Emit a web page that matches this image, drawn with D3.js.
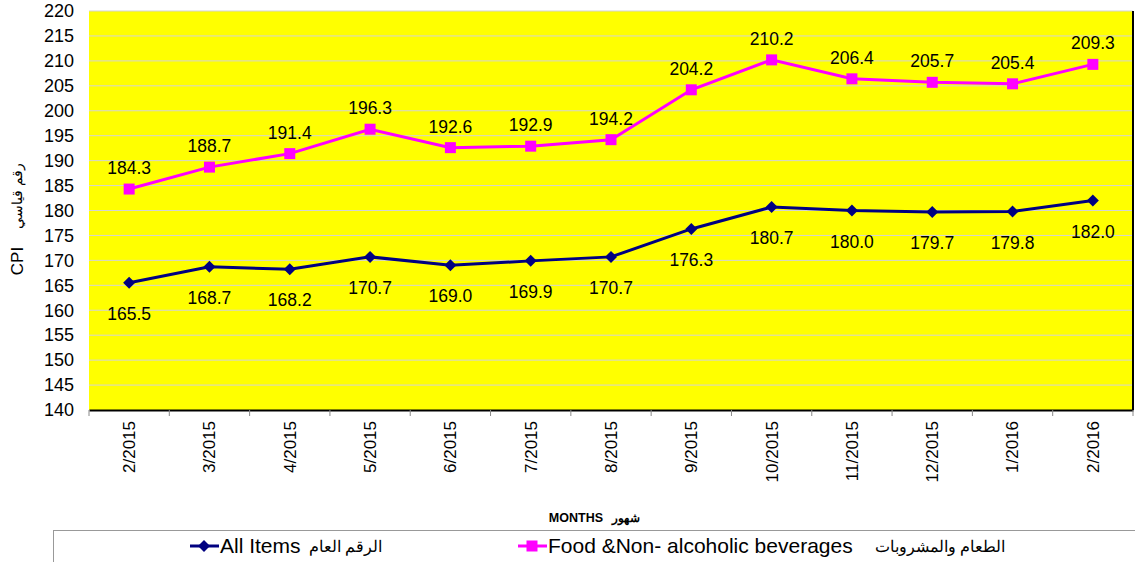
<!DOCTYPE html>
<html>
<head>
<meta charset="utf-8">
<script src="https://cdn.jsdelivr.net/npm/d3@7"></script>
<style>
body { margin: 0; background: #fff; }
svg text { font-family: "Liberation Sans", Arial, sans-serif; }
</style>
</head>
<body>
<svg id="chart" width="1135" height="562"></svg>
<script>
// 월 (categories)
var months = ["2/2015", "3/2015", "4/2015", "5/2015", "6/2015", "7/2015", "8/2015",
              "9/2015", "10/2015", "11/2015", "12/2015", "1/2016", "2/2016"];

// series values
var allItems = [165.5, 168.7, 168.2, 170.7, 169.0, 169.9, 170.7, 176.3, 180.7, 180.0, 179.7, 179.8, 182.0];
var foodBev  = [184.3, 188.7, 191.4, 196.3, 192.6, 192.9, 194.2, 204.2, 210.2, 206.4, 205.7, 205.4, 209.3];

var yTicks = d3.range(140, 221, 5);

var svg = d3.select("#chart"),
 margin = {top: 11, right: 2, bottom: 152, left: 89},
  width = +svg.attr("width") - margin.left - margin.right,
 height = +svg.attr("height") - margin.top - margin.bottom,
      g = svg.append("g").attr("transform", "translate(" + margin.left + "," + margin.top + ")");

var x = d3.scaleBand()
          .domain(months)
          .range([0, width]);

var y = d3.scaleLinear()
          .domain([140, 220])
          .range([height, 0]);

// plot background
g.append("rect")
  .attr("width", width)
  .attr("height", height)
  .attr("fill", "#ffff00");

// grid lines
g.append("g")
  .selectAll("line")
  .data(yTicks.slice(1))
  .enter()
  .append("line")
  .attr("x1", 0)
  .attr("x2", width)
  .attr("y1", function(d) { return y(d); })
  .attr("y2", function(d) { return y(d); })
  .attr("stroke", "#d4d4d4")
  .attr("stroke-width", 1);

// right border
g.append("line")
  .attr("x1", width).attr("x2", width)
  .attr("y1", 0).attr("y2", height)
  .attr("stroke", "#000").attr("stroke-width", 2);

// y axis
var yAxis = g.append("g")
  .call(d3.axisLeft(y).tickValues(yTicks).tickSize(0).tickPadding(15));
yAxis.select(".domain").remove();
yAxis.selectAll("text")
  .attr("font-size", 18)
  .attr("fill", "#000")
  .attr("font-family", "Liberation Sans, Arial, sans-serif");

// x axis
var xAxis = g.append("g")
  .attr("transform", "translate(0," + height + ")")
  .call(d3.axisBottom(x).tickSize(0));
xAxis.select(".domain").attr("stroke", "#000").attr("stroke-width", 2);
xAxis.selectAll("text")
  .attr("font-size", 17)
  .attr("fill", "#000")
  .attr("font-family", "Liberation Sans, Arial, sans-serif")
  .attr("transform", "rotate(-90)")
  .attr("text-anchor", "end")
  .attr("x", -11)
  .attr("y", 0)
  .attr("dy", "0.35em");

// category boundary ticks
g.append("g")
  .selectAll("line")
  .data(months.concat(["end"]))
  .enter()
  .append("line")
  .attr("x1", function(d, i) { return i * x.step(); })
  .attr("x2", function(d, i) { return i * x.step(); })
  .attr("y1", height)
  .attr("y2", height + 6)
  .attr("stroke", "#888")
  .attr("stroke-width", 1);

var cx = function(d, i) { return x(months[i]) + x.bandwidth() / 2; };

var line = d3.line()
  .x(cx)
  .y(function(d) { return y(d); });

// food series
g.append("path")
  .datum(foodBev)
  .attr("fill", "none")
  .attr("stroke", "#ff00ff")
  .attr("stroke-width", 3)
  .attr("d", line);

g.selectAll(".sq")
  .data(foodBev)
  .enter()
  .append("rect")
  .attr("class", "sq")
  .attr("x", function(d, i) { return cx(d, i) - 5.5; })
  .attr("y", function(d) { return y(d) - 5.5; })
  .attr("width", 11)
  .attr("height", 11)
  .attr("fill", "#ff00ff");

// all items series
g.append("path")
  .datum(allItems)
  .attr("fill", "none")
  .attr("stroke", "#000080")
  .attr("stroke-width", 3)
  .attr("d", line);

g.selectAll(".dm")
  .data(allItems)
  .enter()
  .append("path")
  .attr("class", "dm")
  .attr("transform", function(d, i) { return "translate(" + cx(d, i) + "," + y(d) + ")"; })
  .attr("d", "M0,-6L6,0L0,6L-6,0Z")
  .attr("fill", "#000080");

// data labels
g.selectAll(".lbF")
  .data(foodBev)
  .enter()
  .append("text")
  .attr("class", "lbF")
  .attr("x", cx)
  .attr("y", function(d) { return y(d) - 21; })
  .attr("dy", "0.35em")
  .attr("text-anchor", "middle")
  .attr("font-size", 17.5)
  .text(function(d) { return d.toFixed(1); });

g.selectAll(".lbA")
  .data(allItems)
  .enter()
  .append("text")
  .attr("class", "lbA")
  .attr("x", cx)
  .attr("y", function(d) { return y(d) + 31; })
  .attr("dy", "0.35em")
  .attr("text-anchor", "middle")
  .attr("font-size", 17.5)
  .text(function(d) { return d.toFixed(1); });

// y axis title
svg.append("text")
  .attr("transform", "translate(17,261) rotate(-90)")
  .attr("text-anchor", "middle")
  .attr("dy", "0.35em")
  .attr("font-size", 17)
  .text("CPI");
svg.append("text")
  .attr("transform", "translate(17,196) rotate(-90)")
  .attr("text-anchor", "middle")
  .attr("dy", "0.35em")
  .attr("font-size", 14)
  .text("رقم قياسي");

// x axis title
svg.append("text")
  .attr("x", 603)
  .attr("y", 522)
  .attr("text-anchor", "end")
  .attr("font-size", 12.5)
  .attr("font-weight", "bold")
  .text("MONTHS");
svg.append("text")
  .attr("x", 612)
  .attr("y", 522)
  .attr("text-anchor", "start")
  .attr("font-size", 12)
  .attr("font-weight", "bold")
  .text("شهور");

// legend
var legend = svg.append("g");
legend.append("rect")
  .attr("x", 53.5).attr("y", 530.5)
  .attr("width", 1090).attr("height", 40)
  .attr("fill", "#fff")
  .attr("stroke", "#999");

var legendItems = [
  {x: 190, color: "#000080", shape: "diamond", label: "All Items", ar: "الرقم العام", arX: 382},
  {x: 518, color: "#ff00ff", shape: "square", label: "Food &Non- alcoholic beverages", ar: "الطعام والمشروبات", arX: 1005}
];

var li = legend.selectAll(".li")
  .data(legendItems)
  .enter()
  .append("g")
  .attr("class", "li");

li.append("line")
  .attr("x1", function(d) { return d.x; })
  .attr("x2", function(d) { return d.x + 29; })
  .attr("y1", 546).attr("y2", 546)
  .attr("stroke", function(d) { return d.color; })
  .attr("stroke-width", 3);

li.append("path")
  .attr("transform", function(d) { return "translate(" + (d.x + 14) + ",546)"; })
  .attr("d", function(d) { return d.shape === "diamond" ? "M0,-6L6,0L0,6L-6,0Z" : "M-5.5,-5.5H5.5V5.5H-5.5Z"; })
  .attr("fill", function(d) { return d.color; });

li.append("text")
  .attr("x", function(d) { return d.x + 30; })
  .attr("y", 546)
  .attr("dy", "0.35em")
  .attr("font-size", 21)
  .text(function(d) { return d.label; });

li.append("text")
  .attr("x", function(d) { return d.arX; })
  .attr("y", 546)
  .attr("dy", "0.35em")
  .attr("text-anchor", "end")
  .attr("font-size", 16)
  .text(function(d) { return d.ar; });
</script>
</body>
</html>
